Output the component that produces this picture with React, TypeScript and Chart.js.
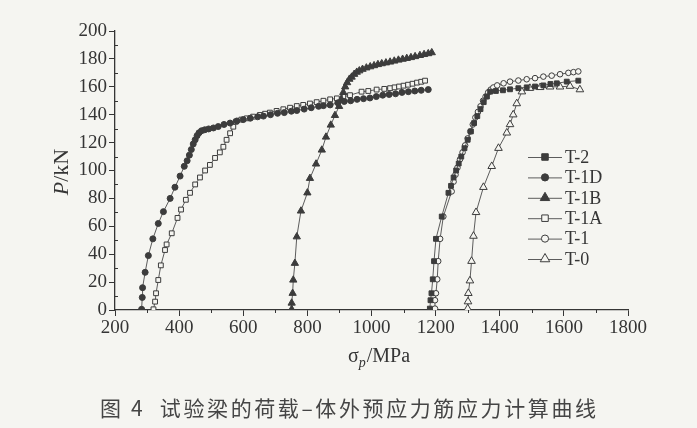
import React, { useEffect, useRef } from 'react';
import { Chart, registerables } from 'chart.js';

Chart.register(...registerables);

// ---- axis ticks ----
const X_MIN = 200;
const X_MAX = 1800;
const X_STEP = 200;
const X_MINOR = [300, 500, 700, 900, 1100, 1300, 1500, 1700];
const Y_MIN = 0;
const Y_MAX = 200;
const Y_STEP = 20;
const Y_MINOR = [10, 30, 50, 70, 90, 110, 130, 150, 170, 190];

const X_TITLE_MAIN = 'σ';
const X_TITLE_SUB = 'p';
const X_TITLE_REST = '/MPa';
const Y_TITLE_ITALIC = 'P';
const Y_TITLE_REST = '/kN';
const CAPTION = '图 4  试验梁的荷载–体外预应力筋应力计算曲线';

const SERIES_NAMES = ['T-2', 'T-1D', 'T-1B', 'T-1A', 'T-1', 'T-0'];

// ---- series values: sigma_p (MPa) and P (kN) ----
const T2_SIGMA = [1182, 1184, 1187, 1191, 1195, 1201, 1219, 1240, 1248, 1256, 1264, 1272, 1280, 1290, 1300, 1310, 1320, 1330, 1340, 1350, 1360, 1370, 1388, 1410, 1432, 1458, 1484, 1510, 1536, 1558, 1578, 1609, 1645];
const T2_LOAD = [1, 7, 12, 22, 35, 51, 67, 84, 89, 95, 100, 105, 110, 116, 122, 128, 134, 139, 144, 149, 153, 156.5, 157, 157.5, 158.2, 159, 159.6, 160.2, 161, 162, 162.5, 163.7, 164.4];

const T1D_SIGMA = [283, 285, 286, 294, 304, 318, 335, 351, 372, 387, 403, 416, 425, 432, 438, 444, 450, 456, 462, 470, 480, 492, 507, 522, 540, 559, 580, 600, 622, 645, 663, 685, 707, 728, 750, 767, 790, 812, 835, 850, 871, 895, 915, 935, 955, 975, 995, 1015, 1035, 1055, 1075, 1095, 1115, 1135, 1155, 1177];
const T1D_LOAD = [0.5, 9, 16, 27, 39, 51, 62, 70.5, 80, 88, 96, 103, 107, 111, 115, 119, 122, 125, 127, 128.5, 129.2, 129.8, 130.5, 131.5, 133, 134, 135.5, 136.5, 137.5, 138.5, 139, 140, 141, 141.5, 142.5, 143, 144, 145, 146, 146.5, 147, 148.5, 149.5, 150, 151, 151.5, 152, 153, 154, 154.5, 155, 156, 156.5, 157, 157.5, 158];

const T1B_SIGMA = [751, 751, 754, 756, 761, 767, 780, 800, 808, 827, 845, 858, 873, 886, 899, 906, 912, 918, 924, 931, 938, 946, 954, 962, 972, 984, 996, 1008, 1020, 1032, 1045, 1058, 1071, 1084, 1097, 1110, 1123, 1136, 1151, 1164, 1177, 1188];
const T1B_LOAD = [0.5, 5, 12, 21.5, 33.5, 52.5, 71, 84, 94.4, 104.7, 114.7, 124, 132.6, 139.5, 146, 151, 156, 160, 163, 165.5, 167, 169, 170.5, 171.5, 172.6, 173.6, 174.4, 175.2, 176, 176.6, 177.2, 177.8, 178.5, 179.2, 179.8, 180.4, 181, 181.7, 182.5, 183.2, 183.8, 184.5];

const T1A_SIGMA = [320, 325, 328, 335, 343, 356, 361, 377, 395, 406, 421, 434, 450, 465, 481, 496, 512, 527, 538, 548, 559, 569, 577, 594, 611, 631, 652, 668, 683, 704, 725, 746, 767, 787, 808, 829, 850, 871, 892, 912, 933, 969, 990, 1016, 1040, 1058, 1072, 1086, 1100, 1114, 1128, 1142, 1155, 1167];
const T1A_LOAD = [0.5, 6, 12, 21.5, 32, 43, 47, 55, 66, 72, 79, 84, 90, 95, 100, 104, 109, 113, 117, 122, 126.7, 131.4, 135, 136.5, 137.4, 138.6, 139.8, 140.7, 141.5, 142.7, 143.9, 145, 146.2, 147, 148, 149, 150, 151, 151.7, 152.8, 154, 156.5, 157, 158, 158.5, 159, 159.6, 160.2, 160.8, 161.5, 162.2, 163, 163.6, 164.4];

const T1_SIGMA = [1198, 1198, 1201, 1205, 1208, 1214, 1224, 1250, 1256, 1262, 1268, 1276, 1284, 1292, 1300, 1308, 1316, 1324, 1332, 1340, 1348, 1356, 1364, 1372, 1380, 1392, 1412, 1432, 1458, 1484, 1510, 1536, 1562, 1588, 1614, 1630, 1645];
const T1_LOAD = [1, 7, 12, 22, 35, 51, 67, 85, 92, 97, 102, 108, 113, 118, 123, 128, 133, 138, 142, 146, 150, 153, 156, 158, 159.5, 161, 162.5, 163.7, 164.5, 165.4, 166.2, 167.3, 168, 169, 170, 170.5, 171];

const T0_SIGMA = [1300, 1301, 1302, 1307, 1312, 1318, 1326, 1349, 1375, 1396, 1422, 1432, 1442, 1453, 1469, 1494, 1526, 1557, 1588, 1619, 1650];
const T0_LOAD = [1, 6, 12, 21, 35, 53, 70, 88, 103, 116, 127, 133, 140, 148, 156.5, 159, 159.6, 160, 160, 160.5, 158];

const BG = '#f5f5f1';
const INK = '#353535';
const MARK = '#3c3c3c';
const LINE = '#5c5c5c';
const SERIF = "'Liberation Serif', 'Times New Roman', serif";

type Style = { pointStyle: string; filled: boolean; radius: number };
const STYLES: Style[] = [
  { pointStyle: 'rect', filled: true, radius: 3.4 },
  { pointStyle: 'circle', filled: true, radius: 3 },
  { pointStyle: 'triangle', filled: true, radius: 4.2 },
  { pointStyle: 'rect', filled: false, radius: 3.4 },
  { pointStyle: 'circle', filled: false, radius: 2.8 },
  { pointStyle: 'triangle', filled: false, radius: 4.4 },
];

const SIGMAS = [T2_SIGMA, T1D_SIGMA, T1B_SIGMA, T1A_SIGMA, T1_SIGMA, T0_SIGMA];
const LOADS = [T2_LOAD, T1D_LOAD, T1B_LOAD, T1A_LOAD, T1_LOAD, T0_LOAD];

function drawMarker(ctx: CanvasRenderingContext2D, style: Style, x: number, y: number, r: number) {
  ctx.save();
  ctx.fillStyle = style.filled ? MARK : BG;
  ctx.strokeStyle = MARK;
  ctx.lineWidth = 1;
  ctx.beginPath();
  if (style.pointStyle === 'rect') {
    const s = r * Math.SQRT1_2;
    ctx.rect(x - s, y - s, 2 * s, 2 * s);
  } else if (style.pointStyle === 'circle') {
    ctx.arc(x, y, r, 0, Math.PI * 2);
  } else {
    const h = r * 1.5;
    const w = r * Math.sqrt(3);
    ctx.moveTo(x, y - r);
    ctx.lineTo(x + w / 2, y - r + h);
    ctx.lineTo(x - w / 2, y - r + h);
    ctx.closePath();
  }
  ctx.fill();
  ctx.stroke();
  ctx.restore();
}

const decorPlugin = {
  id: 'decor',
  beforeDraw(chart: any) {
    const ctx = chart.ctx as CanvasRenderingContext2D;
    ctx.save();
    ctx.fillStyle = BG;
    ctx.fillRect(0, 0, chart.width, chart.height);
    ctx.restore();
  },
  afterDraw(chart: any) {
    const ctx = chart.ctx as CanvasRenderingContext2D;
    const xs = chart.scales.x;
    const ys = chart.scales.y;
    const area = chart.chartArea;
    ctx.save();
    // minor ticks
    ctx.strokeStyle = INK;
    ctx.lineWidth = 1;
    ctx.beginPath();
    for (const v of X_MINOR) {
      const px = Math.round(xs.getPixelForValue(v)) + 0.5;
      ctx.moveTo(px, area.bottom);
      ctx.lineTo(px, area.bottom + 3);
    }
    for (const v of Y_MINOR) {
      const py = Math.round(ys.getPixelForValue(v)) + 0.5;
      ctx.moveTo(area.left, py);
      ctx.lineTo(area.left + 3, py);
    }
    ctx.stroke();

    // x title
    ctx.fillStyle = INK;
    ctx.textBaseline = 'alphabetic';
    ctx.textAlign = 'left';
    const mainFont = `20px ${SERIF}`;
    const subFont = `italic 14px ${SERIF}`;
    ctx.font = mainFont;
    const w1 = ctx.measureText(X_TITLE_MAIN).width;
    const w3 = ctx.measureText(X_TITLE_REST).width;
    ctx.font = subFont;
    const w2 = ctx.measureText(X_TITLE_SUB).width;
    const cx = (area.left + area.right) / 2 + 7;
    let tx = cx - (w1 + w2 + w3) / 2;
    const ty = 362;
    ctx.font = mainFont;
    ctx.fillText(X_TITLE_MAIN, tx, ty);
    tx += w1;
    ctx.font = subFont;
    ctx.fillText(X_TITLE_SUB, tx, ty + 5);
    tx += w2 + 1;
    ctx.font = mainFont;
    ctx.fillText(X_TITLE_REST, tx, ty);

    // y title
    ctx.save();
    ctx.translate(62, 172);
    ctx.rotate(-Math.PI / 2);
    const itFont = `italic 22px ${SERIF}`;
    const rgFont = `22px ${SERIF}`;
    ctx.font = itFont;
    const a = ctx.measureText(Y_TITLE_ITALIC).width;
    ctx.font = rgFont;
    const b = ctx.measureText(Y_TITLE_REST).width;
    ctx.textBaseline = 'middle';
    let yx = -(a + b) / 2;
    ctx.font = itFont;
    ctx.fillText(Y_TITLE_ITALIC, yx, 0);
    yx += a;
    ctx.font = rgFont;
    ctx.fillText(Y_TITLE_REST, yx, 0);
    ctx.restore();

    // legend
    const lx0 = 528, lx1 = 562, mx = 545, textX = 565;
    const rowY = [157, 177.4, 197.8, 218.2, 238.6, 259];
    ctx.font = `18px ${SERIF}`;
    ctx.textBaseline = 'middle';
    SERIES_NAMES.forEach((name, i) => {
      const y = rowY[i];
      ctx.strokeStyle = LINE;
      ctx.lineWidth = 1;
      ctx.beginPath();
      ctx.moveTo(lx0, y + 0.5);
      ctx.lineTo(lx1, y + 0.5);
      ctx.stroke();
      const st = STYLES[i];
      drawMarker(ctx, st, mx, y, st.pointStyle === 'triangle' ? 5.5 : st.pointStyle === 'rect' ? 4.6 : 3.6);
      ctx.fillStyle = INK;
      ctx.fillText(name, textX, y + 1);
    });

    // caption
    ctx.font = `21px 'Noto Sans CJK SC', sans-serif`;
    ctx.fillStyle = '#454545';
    ctx.textBaseline = 'alphabetic';
    ctx.textAlign = 'left';
    (ctx as any).letterSpacing = '0px';
    const natural = ctx.measureText(CAPTION).width;
    const n = Array.from(CAPTION).length;
    const spacing = (496 - natural) / (n - 1);
    (ctx as any).letterSpacing = `${spacing}px`;
    ctx.fillText(CAPTION, 100, 416);
    (ctx as any).letterSpacing = '0px';
    ctx.restore();
  },
};

export default function App() {
  const ref = useRef<HTMLCanvasElement | null>(null);
  useEffect(() => {
    if (!ref.current) return;
    const datasets = SERIES_NAMES.map((name, i) => {
      const st = STYLES[i];
      return {
        label: name,
        data: SIGMAS[i].map((s, k) => ({ x: s, y: LOADS[i][k] })),
        showLine: true,
        borderColor: LINE,
        borderWidth: 1,
        pointStyle: st.pointStyle,
        pointRadius: st.radius,
        pointBackgroundColor: st.filled ? MARK : BG,
        pointBorderColor: MARK,
        pointBorderWidth: 1,
        fill: false,
        tension: 0,
      };
    });
    const chart = new Chart(ref.current, {
      type: 'scatter',
      data: { datasets } as any,
      plugins: [decorPlugin],
      options: {
        animation: false,
        responsive: false,
        events: [],
        layout: { padding: { left: 0, right: 69, top: 31, bottom: 0 } },
        plugins: { legend: { display: false }, tooltip: { enabled: false }, title: { display: false } },
        scales: {
          x: {
            type: 'linear',
            min: X_MIN,
            max: X_MAX,
            afterFit: (s: any) => { s.height = 118; },
            ticks: { stepSize: X_STEP, padding: 1, color: INK, font: { family: SERIF, size: 19 }, maxRotation: 0, callback: (v: any) => String(v) },
            grid: { display: true, drawOnChartArea: false, drawTicks: true, tickLength: 6, color: INK, lineWidth: 1 },
            border: { display: true, color: INK, width: 1.3 },
          },
          y: {
            type: 'linear',
            min: Y_MIN,
            max: Y_MAX,
            afterFit: (s: any) => { s.width = 115; },
            ticks: { stepSize: Y_STEP, padding: 2, color: INK, font: { family: SERIF, size: 19 }, callback: (v: any) => String(v) },
            grid: { display: true, drawOnChartArea: false, drawTicks: true, tickLength: 6, color: INK, lineWidth: 1 },
            border: { display: true, color: INK, width: 1.3 },
          },
        },
      } as any,
    });
    return () => chart.destroy();
  }, []);
  return (
    <div style={{ position: 'fixed', left: 0, top: 0, width: 697, height: 428, background: BG }}>
      <canvas ref={ref} width={697} height={428} style={{ display: 'block', width: 697, height: 428 }} />
    </div>
  );
}
